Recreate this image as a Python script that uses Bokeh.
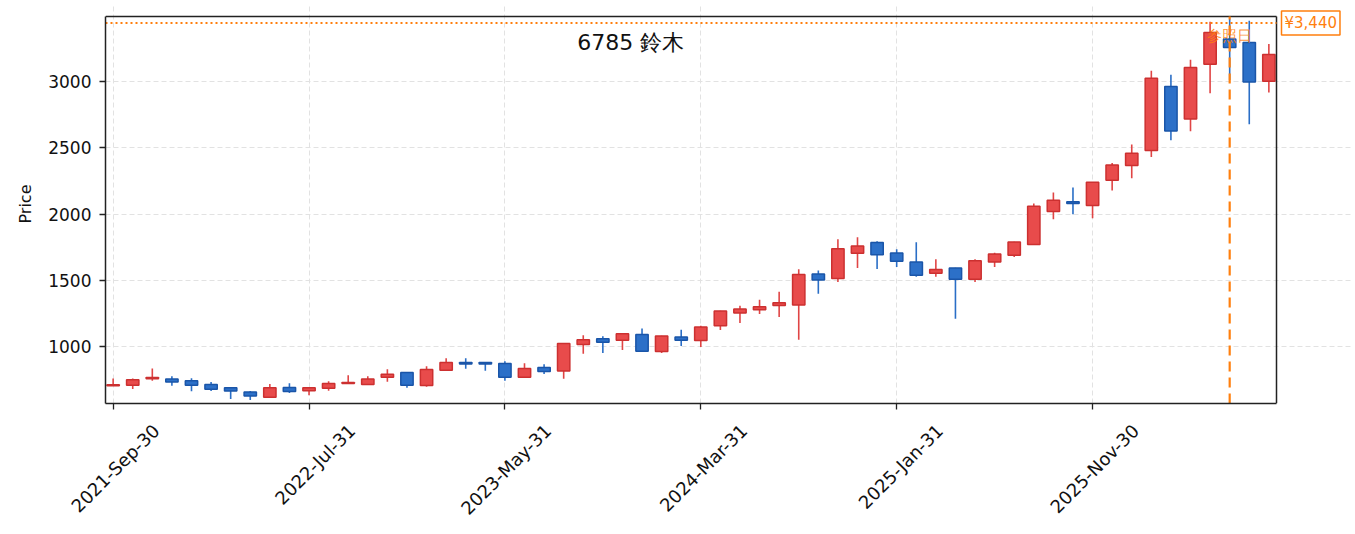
import math
import pandas as pd
from bokeh.plotting import figure
from bokeh.models import (ColumnDataSource, FixedTicker, Label, Range1d,
                          LinearAxis)
from bokeh.embed import file_html
from bokeh.resources import INLINE

title_text = "6785  鈴木"
ref_label = "参照日"
ref_price_label = "¥3,440"
ref_price = 3440
ref_index = 57

opens = [708, 712, 760, 759, 745, 717, 693, 660, 622, 695,
         670, 688, 724, 718, 772, 807, 710, 825, 883, 882,
         875, 772, 845, 818, 1018, 1062, 1050, 1093, 965, 1075,
         1048, 1160, 1255, 1280, 1313, 1315, 1550, 1515, 1705, 1786,
         1708, 1640, 1555, 1595, 1510, 1640, 1690, 1772, 2020, 2093,
         2065, 2255, 2366, 2479, 2962, 2717, 3130, 3320, 3293, 3002]
highs = [762, 762, 838, 780, 765, 735, 697, 669, 720, 727,
         695, 742, 787, 780, 832, 810, 855, 915, 915, 887,
         892, 877, 870, 1027, 1088, 1080, 1102, 1138, 1085, 1130,
         1160, 1272, 1311, 1356, 1416, 1585, 1575, 1811, 1826, 1796,
         1735, 1788, 1660, 1597, 1660, 1710, 1792, 2080, 2163, 2200,
         2242, 2386, 2524, 3080, 3050, 3163, 3449, 3470, 3456, 3281]
lows = [705, 684, 745, 707, 667, 669, 607, 600, 620, 654,
        637, 670, 722, 717, 737, 692, 700, 822, 835, 820,
        745, 770, 797, 760, 948, 955, 977, 965, 955, 1008,
        1000, 1128, 1180, 1248, 1225, 1055, 1400, 1490, 1595, 1588,
        1603, 1528, 1528, 1212, 1490, 1603, 1678, 1770, 1962, 2000,
        1970, 2178, 2271, 2430, 2556, 2624, 2910, 3010, 2677, 2917]
closes = [716, 752, 770, 735, 712, 682, 668, 630, 692, 665,
          692, 725, 733, 758, 795, 712, 830, 883, 872, 872,
          772, 838, 815, 1025, 1055, 1035, 1100, 968, 1083, 1050,
          1150, 1270, 1286, 1302, 1333, 1545, 1505, 1740, 1761, 1695,
          1645, 1540, 1583, 1510, 1650, 1700, 1790, 2060, 2105, 2080,
          2240, 2370, 2458, 3023, 2627, 3105, 3368, 3255, 2995, 3203]

tick_positions = [0, 10, 20, 30, 40, 50]
tick_labels = ["2021-Sep-30", "2022-Jul-31", "2023-May-31",
               "2024-Mar-31", "2025-Jan-31", "2025-Nov-30"]
y_ticks = [1000, 1500, 2000, 2500, 3000]

dates = pd.date_range("2021-09-30", periods=len(opens), freq="ME")

FONT = "DejaVu Sans"
UP_FILL, UP_LINE = "#e84b4b", "#cc3030"
DN_FILL, DN_LINE = "#2c70c8", "#1a55a8"
ORANGE = "#ff7f0e"
FRAME = "#222222"

# the visible price box spans X0..X_END and Y0..Y_TOP; the drawing frame is
# extended to the right and upwards so the price tag beside the box is not clipped
X0, X_END = -0.39, 59.39
Y0, Y_TOP = 574, 3489
BOX_W_PX, BOX_H_PX = 1171, 387.3
W, H = 1353, 530
LEFT, RIGHT, TOP, BOTTOM = 105, 0, 4, 127
x_px = BOX_W_PX / (X_END - X0)
y_px = BOX_H_PX / (Y_TOP - Y0)
X1 = X0 + (W - LEFT - RIGHT) / x_px
Y1 = Y_TOP + (16 - TOP) / y_px
LABEL_SHIFT = 2.2

idx = list(range(len(opens)))
up = [c >= o for o, c in zip(opens, closes)]
src = ColumnDataSource(dict(
    x=idx, date=[d.strftime("%Y-%m-%d") for d in dates],
    open=opens, high=highs, low=lows, close=closes,
    top=[max(o, c) for o, c in zip(opens, closes)],
    bottom=[min(o, c) for o, c in zip(opens, closes)],
    fill=[UP_FILL if u else DN_FILL for u in up],
    line=[UP_LINE if u else DN_LINE for u in up],
    wick=["#e04545" if u else "#2a6ec6" for u in up],
))

p = figure(width=W, height=H, output_backend="svg", toolbar_location=None,
           x_range=Range1d(X0, X1), y_range=Range1d(Y0, Y1),
           min_border_left=LEFT, min_border_right=RIGHT, min_border_top=TOP,
           min_border_bottom=BOTTOM)
p.outline_line_color = None
p.extra_x_ranges = {"lab": Range1d(X0 - LABEL_SHIFT, X1 - LABEL_SHIFT)}

p.grid.grid_line_color = "#e2e2e2"
p.grid.grid_line_dash = "5 3"
p.grid.grid_line_width = 1
p.xgrid.ticker = FixedTicker(ticks=tick_positions)
p.xgrid.bounds = (Y0, Y_TOP)
p.ygrid.bounds = (X0, X_END)

p.segment(x0="x", x1="x", y0="low", y1="high", source=src,
          line_color="wick", line_width=1.6)
p.vbar(x="x", width=0.63, top="top", bottom="bottom", source=src,
       fill_color="fill", line_color="line", line_width=1.5)

# main x axis: tick marks only (drawn as minor ticks, so no labels)
xa = p.xaxis[0]
xa.ticker = FixedTicker(ticks=[], minor_ticks=tick_positions)
xa.bounds = (X0, X_END)
xa.axis_line_color = FRAME
xa.axis_line_width = 1.5
xa.minor_tick_line_color = FRAME
xa.minor_tick_line_width = 1.3
xa.minor_tick_out = 6
xa.minor_tick_in = 0
xa.major_tick_out = 6
xa.major_tick_in = 0
xa.major_label_standoff = 0

# labels axis, shifted so that the rotated labels are centred under the ticks
lab_axis = LinearAxis(x_range_name="lab", ticker=FixedTicker(ticks=tick_positions),
                      major_label_overrides={t: l for t, l in zip(tick_positions, tick_labels)},
                      major_label_orientation=math.pi / 4,
                      major_label_standoff=18, major_tick_out=0, major_tick_in=0,
                      axis_line_color=None, major_tick_line_color=None,
                      minor_tick_line_color=None,
                      major_label_text_font=FONT, major_label_text_font_size="18px",
                      major_label_text_color="#111111")
p.add_layout(lab_axis, "below")

ya = p.yaxis[0]
ya.ticker = FixedTicker(ticks=y_ticks)
ya.bounds = (Y0, Y_TOP)
ya.axis_line_color = FRAME
ya.axis_line_width = 1.5
ya.major_tick_line_color = FRAME
ya.major_tick_line_width = 1.3
ya.major_tick_out = 6
ya.major_tick_in = 0
ya.minor_tick_line_color = None
ya.major_label_text_font = FONT
ya.major_label_text_font_size = "17px"
ya.major_label_text_color = "#111111"
ya.major_label_standoff = 8
ya.axis_label = "Price"
ya.axis_label_text_font = FONT
ya.axis_label_text_font_size = "16px"
ya.axis_label_text_font_style = "normal"
ya.axis_label_text_color = "#111111"
ya.axis_label_standoff = 10

# top and right edges of the box
p.segment(x0=[X0, X_END], x1=[X_END, X_END], y0=[Y_TOP, Y0], y1=[Y_TOP, Y_TOP],
          line_color=FRAME, line_width=1.5)

# reference price (dotted) across the box, and reference date (dashed)
p.segment(x0=[X0], x1=[X_END], y0=[ref_price], y1=[ref_price],
          line_color=ORANGE, line_width=2, line_dash="2 3")
p.segment(x0=[ref_index], x1=[ref_index], y0=[Y0], y1=[Y_TOP],
          line_color=ORANGE, line_width=2.2, line_dash="10 6")

p.add_layout(Label(x=X_END, y=ref_price, x_offset=5, text=ref_price_label,
                   text_align="left", text_baseline="middle",
                   text_color=ORANGE, text_font=FONT, text_font_size="15px",
                   background_fill_color="white", background_fill_alpha=1,
                   border_line_color=ORANGE, border_line_width=1.5,
                   border_line_alpha=1, padding=3))

p.add_layout(Label(x=ref_index, y=3344, text=ref_label, text_align="center",
                   text_baseline="middle", text_color=ORANGE, text_alpha=0.85,
                   text_font=FONT, text_font_size="15px"))
p.add_layout(Label(x=26.6, y=3291, text=title_text, text_align="center",
                   text_baseline="middle", text_color="#111111",
                   text_font=FONT, text_font_size="22px"))

open("out.html", "w").write(file_html(p, INLINE))
